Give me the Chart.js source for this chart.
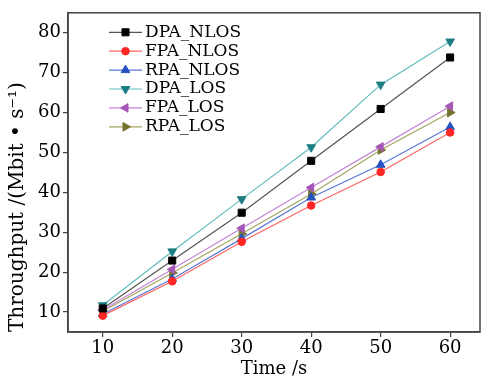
<!DOCTYPE html>
<html>
<head>
<meta charset="utf-8">
<script src="https://cdn.jsdelivr.net/npm/chart.js@4/dist/chart.umd.min.js"></script>
<style>
  html, body { margin: 0; padding: 0; background: #fff; }
  #wrap { width: 486px; height: 380px; }
</style>
</head>
<body>
<div id="wrap"><canvas id="mycanvas" width="486" height="380"></canvas></div>
<script>
// data
var times = [10, 20, 30, 40, 50, 60];
var dpaNlos = [10.9, 22.9, 34.9, 47.9, 60.9, 73.8];
var fpaNlos = [9.1, 17.7, 27.6, 36.7, 45.1, 55.0];
var rpaNlos = [9.5, 18.3, 28.4, 38.7, 46.9, 56.4];
var dpaLos = [11.7, 25.2, 38.3, 51.3, 67.0, 77.8];
var fpaLos = [10.5, 20.7, 31.0, 41.2, 51.4, 61.6];
var rpaLos = [10.2, 19.8, 29.6, 39.6, 50.6, 60.0];
var xTicks = [10, 20, 30, 40, 50, 60];
var yTicks = [10, 20, 30, 40, 50, 60, 70, 80];

var font = "'DejaVu Serif', 'Liberation Serif', serif";

function pts(arr) {
  return arr.map(function(v, i) { return {x: times[i], y: v}; });
}

function ds(label, arr, line, mark, style, rot, r) {
  return {
    label: label,
    data: pts(arr),
    borderColor: line,
    backgroundColor: mark,
    pointBackgroundColor: mark,
    pointBorderColor: mark,
    pointBorderWidth: 1,
    borderWidth: 1.2,
    pointStyle: style,
    rotation: rot,
    pointRadius: r,
    tension: 0
  };
}

var chartdata = {
  datasets: [
    ds('DPA_NLOS', dpaNlos, '#555555', '#000000', 'rect', 0, 5),
    ds('FPA_NLOS', fpaNlos, '#ff6464', '#ff2626', 'circle', 0, 3.8),
    ds('RPA_NLOS', rpaNlos, '#5a78d6', '#2452c0', 'triangle', 0, 5),
    ds('DPA_LOS', dpaLos, '#62bcbc', '#1d7e84', 'triangle', 180, 5),
    ds('FPA_LOS', fpaLos, '#c484d4', '#a457b6', 'triangle', -90, 5),
    ds('RPA_LOS', rpaLos, '#a4a460', '#73732e', 'triangle', 90, 5)
  ]
};

// box around the plot + legend inside it
var framePlugin = {
  id: 'frame',
  afterDraw: function(chart) {
    var a = chart.chartArea, ctx = chart.ctx;
    ctx.save();
    ctx.strokeStyle = '#444';
    ctx.lineWidth = 1.5;
    ctx.strokeRect(a.left, a.top, a.right - a.left, a.bottom - a.top);

    var x0 = 109, x1 = 142, y = 32.3;
    ctx.font = '17px ' + font;
    ctx.textBaseline = 'middle';
    chart.data.datasets.forEach(function(d) {
      ctx.strokeStyle = d.borderColor;
      ctx.lineWidth = 1.2;
      ctx.beginPath();
      ctx.moveTo(x0, y);
      ctx.lineTo(x1, y);
      ctx.stroke();
      ctx.fillStyle = d.pointBackgroundColor;
      ctx.strokeStyle = d.pointBorderColor;
      ctx.lineWidth = 1;
      Chart.helpers.drawPoint(ctx, {
        pointStyle: d.pointStyle, rotation: d.rotation, radius: d.pointRadius, borderWidth: 1
      }, (x0 + x1) / 2, y);
      ctx.fillStyle = '#000';
      ctx.fillText(d.label, 145, y);
      y += 18.9;
    });
    ctx.restore();
  }
};

var ctx = document.getElementById('mycanvas');
var lineGraph = new Chart(ctx, {
  type: 'line',
  data: chartdata,
  plugins: [framePlugin],
  options: {
    responsive: false,
    animation: false,
    layout: { padding: { left: 0, top: 6, right: 2, bottom: 0 } },
    plugins: {
      legend: { display: false },
      tooltip: { enabled: false }
    },
    scales: {
      x: {
        type: 'linear',
        min: 5,
        max: 64.3,
        afterBuildTicks: function(s) { s.ticks = xTicks.map(function(v) { return {value: v}; }); },
        afterFit: function(s) { s.height = 48; },
        grid: { drawOnChartArea: false, drawTicks: true, tickLength: 5, color: '#444', lineWidth: 1.2 },
        border: { display: true, color: '#444', width: 1.5 },
        ticks: { color: '#000', font: { family: font, size: 18 }, padding: 1, maxRotation: 0 },
        title: { display: true, text: 'Time /s', color: '#000', font: { family: font, size: 18 }, padding: { top: -5, bottom: 0 } }
      },
      y: {
        type: 'linear',
        min: 5,
        max: 85,
        afterBuildTicks: function(s) { s.ticks = yTicks.map(function(v) { return {value: v}; }); },
        afterFit: function(s) { s.width = 68; },
        grid: { drawOnChartArea: false, drawTicks: true, tickLength: 5, color: '#444', lineWidth: 1.2 },
        border: { display: true, color: '#444', width: 1.5 },
        ticks: { color: '#000', font: { family: font, size: 18 }, padding: 2 },
        title: { display: true, text: 'Throughput /(Mbit \u2022 s\u207B\u00B9)', align: 'start', color: '#000', font: { family: font, size: 20 }, padding: { top: 6, bottom: 0 } }
      }
    }
  }
});
</script>
</body>
</html>
